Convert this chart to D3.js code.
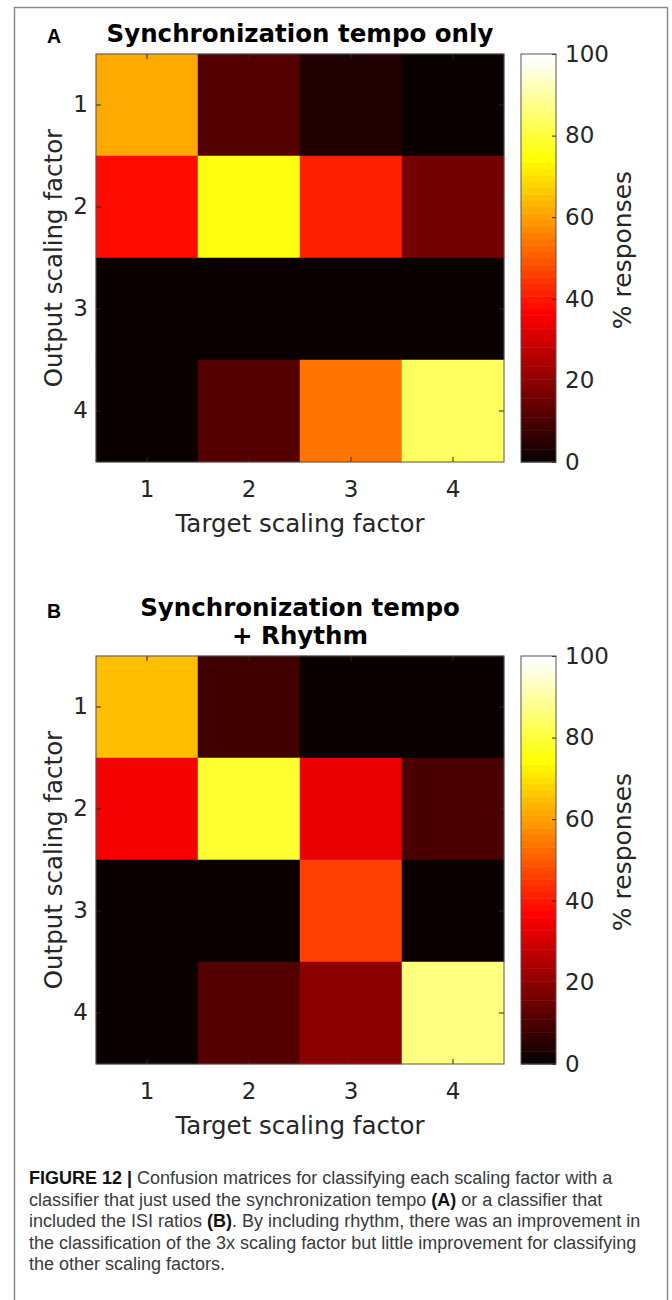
<!DOCTYPE html>
<html>
<head>
<meta charset="utf-8">
<script src="https://cdn.jsdelivr.net/npm/d3@7"></script>
<style>
  body { margin: 0; background: #fff; }
  svg { display: block; }
</style>
</head>
<body>
<div id="chart"></div>
<script>
// rows = output scaling factor, columns = target scaling factor, values = % responses
const targets = [1, 2, 3, 4];
const outputs = [1, 2, 3, 4];
const responsesA = [
  [62, 12, 4, 0],
  [38, 76, 42, 17],
  [0, 0, 0, 0],
  [0, 12, 54, 83]
];
const responsesB = [
  [65, 9, 0, 0],
  [35, 79, 34, 10],
  [0, 0, 46, 0],
  [0, 12, 20, 86]
];
const colorbarTicks = [0, 20, 40, 60, 80, 100];
const titleA = ["Synchronization tempo only"];
const titleB = ["Synchronization tempo", "+ Rhythm"];
const captionLines = [
  [["FIGURE 12 |", true], [" Confusion matrices for classifying each scaling factor with a", false]],
  [["classifier that just used the synchronization tempo ", false], ["(A)", true], [" or a classifier that", false]],
  [["included the ISI ratios ", false], ["(B)", true], [". By including rhythm, there was an improvement in", false]],
  [["the classification of the 3x scaling factor but little improvement for classifying", false]],
  [["the other scaling factors.", false]]
];

const W = 672, H = 1300;
const axColor = "#262626";
const font = "'DejaVu Sans', Verdana, sans-serif";

const svg = d3.select("#chart").append("svg")
    .attr("width", W)
    .attr("height", H);

svg.append("rect").attr("width", W).attr("height", H).attr("fill", "#fff");

// outer frame
svg.append("rect")
    .attr("x", 14.5).attr("y", 7.5)
    .attr("width", 653).attr("height", 1310)
    .attr("fill", "none")
    .attr("stroke", "#8a8a8a")
    .attr("stroke-width", 1.5);

// MATLAB "hot" colormap, 64 levels
const nColors = 64;
function hot(v) {
    const i = Math.min(nColors - 1, Math.floor(v / 100 * nColors));
    const r = Math.min((i + 1) / 24, 1);
    const g = i < 24 ? 0 : Math.min((i - 23) / 24, 1);
    const b = i < 48 ? 0 : (i - 47) / 16;
    return d3.rgb(r * 255, g * 255, b * 255).formatHex();
}

function styleAxis(g) {
    g.select(".domain").remove();
    g.selectAll("line").attr("stroke", axColor).attr("stroke-width", 1);
    g.selectAll("text")
        .attr("fill", axColor)
        .style("font-family", font)
        .style("font-size", "23px");
}

function drawPanel(top, data, titleLines, letter, letterY) {
    const plotL = 96, plotR = 504, plotH = 408;
    const x = d3.scaleBand().domain(targets).range([plotL, plotR]);
    const y = d3.scaleBand().domain(outputs).range([top, top + plotH]);

    const cells = [];
    data.forEach((row, r) => row.forEach((v, c) =>
        cells.push({ out: outputs[r], tgt: targets[c], v: v })));

    svg.append("g")
        .selectAll("rect")
        .data(cells)
        .join("rect")
        .attr("x", d => x(d.tgt))
        .attr("y", d => y(d.out))
        .attr("width", x.bandwidth())
        .attr("height", y.bandwidth())
        .attr("fill", d => hot(d.v))
        .attr("stroke", d => hot(d.v))
        .attr("stroke-width", 0.5);

    // axes (ticks point inward, box on)
    svg.append("g")
        .attr("transform", `translate(0,${top + plotH})`)
        .call(d3.axisBottom(x).tickSizeInner(-5).tickSizeOuter(0).tickPadding(19))
        .call(styleAxis);
    svg.append("g")
        .attr("transform", `translate(0,${top})`)
        .call(d3.axisTop(x).tickSizeInner(-5).tickSizeOuter(0).tickFormat(() => ""))
        .call(styleAxis);
    svg.append("g")
        .attr("transform", `translate(${plotL},0)`)
        .call(d3.axisLeft(y).tickSizeInner(-5).tickSizeOuter(0).tickPadding(8))
        .call(styleAxis);
    svg.append("g")
        .attr("transform", `translate(${plotR},0)`)
        .call(d3.axisRight(y).tickSizeInner(-5).tickSizeOuter(0).tickFormat(() => ""))
        .call(styleAxis);

    svg.append("rect")
        .attr("x", plotL).attr("y", top)
        .attr("width", plotR - plotL).attr("height", plotH)
        .attr("fill", "none")
        .attr("stroke", "#555")
        .attr("stroke-width", 1);

    // colorbar
    const cbL = 521, cbW = 35;
    const c = d3.scaleLinear().domain([0, 100]).range([top + plotH, top]);
    svg.append("g")
        .selectAll("rect")
        .data(d3.range(nColors))
        .join("rect")
        .attr("x", cbL)
        .attr("y", i => c((i + 1) * 100 / nColors))
        .attr("width", cbW)
        .attr("height", i => c(i * 100 / nColors) - c((i + 1) * 100 / nColors) + 0.5)
        .attr("fill", i => hot((i + 0.5) * 100 / nColors));
    svg.append("g")
        .attr("transform", `translate(${cbL + cbW},0)`)
        .call(d3.axisRight(c).tickValues(colorbarTicks).tickSizeInner(-4).tickSizeOuter(0).tickPadding(9))
        .call(styleAxis);
    svg.append("rect")
        .attr("x", cbL).attr("y", top)
        .attr("width", cbW).attr("height", plotH)
        .attr("fill", "none")
        .attr("stroke", "#555")
        .attr("stroke-width", 1);

    // labels
    svg.append("text")
        .attr("x", (plotL + plotR) / 2)
        .attr("y", top + plotH + 70)
        .attr("text-anchor", "middle")
        .attr("fill", axColor)
        .style("font-family", font)
        .style("font-size", "24.5px")
        .text("Target scaling factor");
    svg.append("text")
        .attr("transform", `translate(62,${top + plotH / 2}) rotate(-90)`)
        .attr("text-anchor", "middle")
        .attr("fill", axColor)
        .style("font-family", font)
        .style("font-size", "24.5px")
        .text("Output scaling factor");
    svg.append("text")
        .attr("transform", `translate(631,${top + plotH / 2 - 8}) rotate(-90)`)
        .attr("text-anchor", "middle")
        .attr("fill", axColor)
        .style("font-family", font)
        .style("font-size", "25px")
        .text("% responses");

    // title
    const lastBase = top - 12;
    titleLines.forEach((t, i) => {
        svg.append("text")
            .attr("x", 300)
            .attr("y", lastBase - (titleLines.length - 1 - i) * 28)
            .attr("text-anchor", "middle")
            .attr("fill", "#000")
            .style("font-family", font)
            .style("font-weight", "bold")
            .style("font-size", "24.5px")
            .text(t);
    });

    svg.append("text")
        .attr("x", 47)
        .attr("y", letterY)
        .attr("fill", "#000")
        .style("font-family", "'Liberation Sans', Arial, sans-serif")
        .style("font-weight", "bold")
        .style("font-size", "19.5px")
        .text(letter);
}

drawPanel(54, responsesA, titleA, "A", 43);
drawPanel(656, responsesB, titleB, "B", 618);

// caption
const cap = svg.append("g")
    .style("font-family", "'Liberation Sans', Arial, sans-serif")
    .style("font-size", "18px");
captionLines.forEach((line, i) => {
    const t = cap.append("text")
        .attr("x", 29)
        .attr("y", 1184 + i * 21.5);
    line.forEach(([s, b]) => {
        t.append("tspan")
            .attr("fill", b ? "#111" : "#3a3a3a")
            .style("font-weight", b ? "bold" : "normal")
            .text(s);
    });
});
</script>
</body>
</html>
